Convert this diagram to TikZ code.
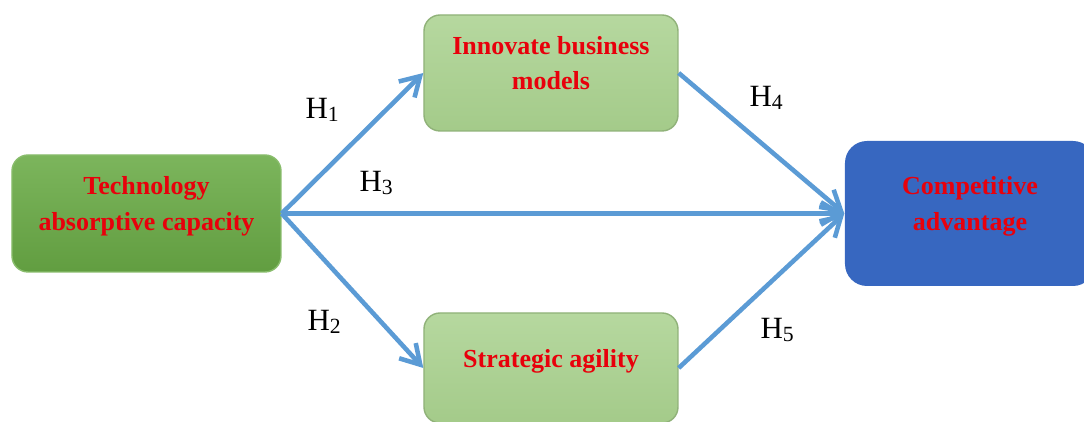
\documentclass[tikz,border=0pt]{standalone}
\usepackage{fontspec}
\setmainfont{Liberation Serif}
\usetikzlibrary{arrows.meta}

\definecolor{arrowblue}{HTML}{5B9BD5}
\definecolor{darkgreen}{HTML}{6AAB46}
\definecolor{lightgreen}{HTML}{A9D18E}
\definecolor{boxblue}{HTML}{3767C0}
\definecolor{labelred}{HTML}{E8000B}

\tikzset{
   box/.style={rounded corners=0.16cm, align=center, inner sep=2pt, text depth=0.2cm,
      font=\fontsize{7.4}{10}\selectfont\bfseries, text=labelred},
   mainbox/.style={box, draw=darkgreen!80!white, top color=darkgreen!88!white,
      bottom color=darkgreen!92!black},
   medbox/.style={box, draw=lightgreen!85!black, top color=lightgreen!85!white,
      bottom color=lightgreen!97!black},
   outbox/.style={box, fill=boxblue, rounded corners=0.22cm},
   link/.style={draw=arrowblue, line width=1.3pt,
      -{Straight Barb[length=5.4pt, width=6.4pt, line width=1.3pt]}},
   hyp/.style={font=\fontsize{8.8}{10}\selectfont}
}

\begin{document}
\begin{tikzpicture}
      \useasboundingbox (0,0) rectangle (10.84,4.22);
      \node[mainbox, minimum width=2.69cm, minimum height=1.17cm] (tac) at (1.465, 2.085)
         {Technology\\absorptive capacity};
      \node[medbox, minimum width=2.54cm, minimum height=1.16cm] (ibm) at (5.51, 3.49)
         {Innovate business\\models};
      \node[medbox, minimum width=2.54cm, minimum height=1.10cm] (sa) at (5.51, 0.54)
         {Strategic agility};
      \node[outbox, minimum width=2.50cm, minimum height=1.45cm] (ca) at (9.70, 2.085)
         {Competitive\\advantage};
      \def \Edges {
         tac.east/ibm.west,
         tac.east/sa.west,
         tac.east/ca.west,
         ibm.east/ca.west,
         sa.east/ca.west}
      \def \Labels {
         1/3.23/3.12,
         2/3.25/1.00,
         3/3.77/2.39,
         4/7.67/3.24,
         5/7.78/0.92}
      \foreach \u / \v in \Edges {
         \path[link] (\u) -- (\v);
      }
      \foreach \h / \x / \y in \Labels {
         \node[hyp] (h\h) at (\x, \y) {H\textsubscript{\h}};
      }
   \end{tikzpicture}
\end{document}
